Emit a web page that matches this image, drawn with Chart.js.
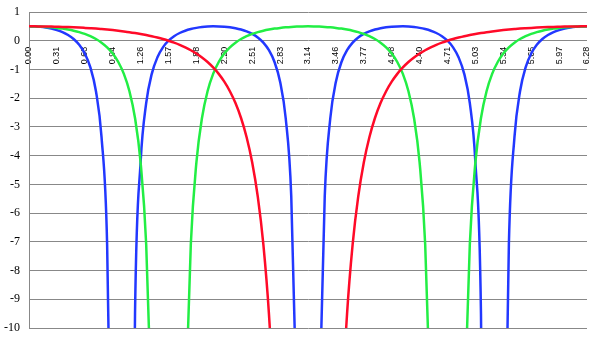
<!DOCTYPE html>
<html>
<head>
<meta charset="utf-8">
<script src="https://cdn.jsdelivr.net/npm/chart.js@4"></script>
<style>
    html, body { margin: 0; padding: 0; background: #fff; }
    #wrap { width: 600px; height: 340px; }
</style>
</head>
<body>
<div id="wrap"><canvas id="chart" width="600" height="340"></canvas></div>
<script>
// Tick labels shown on the category axis (every 5th point)
const xTickLabels = ['0.00', '0.31', '0.63', '0.94', '1.26', '1.57', '1.88', '2.20', '2.51', '2.83',
    '3.14', '3.46', '3.77', '4.08', '4.40', '4.71', '5.03', '5.34', '5.65', '5.97', '6.28'];

// Series values, 101 points from 0 to 2π (null where the curve is off the chart)
const red = [0.5, 0.5, 0.498, 0.496, 0.492, 0.487, 0.482, 0.475, 0.467, 0.458,
    0.447, 0.435, 0.422, 0.406, 0.389, 0.370, 0.349, 0.325, 0.299, 0.269,
    0.236, 0.199, 0.158, 0.111, 0.059, 0, -0.067, -0.143, -0.231, -0.331,
    -0.447, -0.583, -0.741, -0.930, -1.154, -1.426, -1.758, -2.170, -2.690, -3.358,
    -4.236, -5.424, -7.085, -9.507, -13.24, -19.43, null, null, null, null,
    null, null, null, null, null, -19.43, -13.24, -9.507, -7.085, -5.424,
    -4.236, -3.358, -2.690, -2.170, -1.758, -1.426, -1.154, -0.930, -0.741, -0.583,
    -0.447, -0.331, -0.231, -0.143, -0.067, 0, 0.059, 0.111, 0.158, 0.199,
    0.236, 0.269, 0.299, 0.325, 0.349, 0.370, 0.389, 0.406, 0.422, 0.435,
    0.447, 0.458, 0.467, 0.475, 0.482, 0.487, 0.492, 0.496, 0.498, 0.5, 0.5];

const green = [0.5, 0.498, 0.492, 0.482, 0.467, 0.447, 0.422, 0.389, 0.349, 0.299,
    0.236, 0.158, 0.059, -0.067, -0.231, -0.447, -0.741, -1.154, -1.758, -2.690,
    -4.236, -7.085, -13.24, null, null, null, null, null, -13.24, -7.085,
    -4.236, -2.690, -1.758, -1.154, -0.741, -0.447, -0.231, -0.067, 0.059, 0.158,
    0.236, 0.299, 0.349, 0.389, 0.422, 0.447, 0.467, 0.482, 0.492, 0.498,
    0.5, 0.498, 0.492, 0.482, 0.467, 0.447, 0.422, 0.389, 0.349, 0.299,
    0.236, 0.158, 0.059, -0.067, -0.231, -0.447, -0.741, -1.154, -1.758, -2.690,
    -4.236, -7.085, -13.24, null, null, null, null, null, -13.24, -7.085,
    -4.236, -2.690, -1.758, -1.154, -0.741, -0.447, -0.231, -0.067, 0.059, 0.158,
    0.236, 0.299, 0.349, 0.389, 0.422, 0.447, 0.467, 0.482, 0.492, 0.498, 0.5];

const blue = [0.5, 0.496, 0.482, 0.458, 0.422, 0.370, 0.299, 0.199, 0.059, -0.143,
    -0.447, -0.930, -1.758, -3.358, -7.085, -19.43, null, null, -30.83, -9.507,
    -4.236, -2.170, -1.154, -0.583, -0.231, 0, 0.158, 0.269, 0.349, 0.406,
    0.447, 0.475, 0.492, 0.5, 0.498, 0.487, 0.467, 0.435, 0.389, 0.325,
    0.236, 0.111, -0.067, -0.331, -0.741, -1.426, -2.690, -5.424, -13.24, null,
    null, null, -13.24, -5.424, -2.690, -1.426, -0.741, -0.331, -0.067, 0.111,
    0.236, 0.325, 0.389, 0.435, 0.467, 0.487, 0.498, 0.5, 0.492, 0.475,
    0.447, 0.406, 0.349, 0.269, 0.158, 0, -0.231, -0.583, -1.154, -2.170,
    -4.236, -9.507, -30.83, null, null, -19.43, -7.085, -3.358, -1.758, -0.930,
    -0.447, -0.143, 0.059, 0.199, 0.299, 0.370, 0.422, 0.458, 0.482, 0.496, 0.5];

const gridGray = '#888888';

function lineSet(data, color) {
    return {
        data: data,
        borderColor: color,
        backgroundColor: color,
        borderWidth: 2.5,
        pointRadius: 0,
        fill: false,
        spanGaps: false,
        cubicInterpolationMode: 'monotone'
    };
}

new Chart(document.getElementById('chart'), {
    type: 'line',
    data: {
        labels: red.map((_, i) => i),
        datasets: [
            lineSet(red, '#ff0a28'),
            lineSet(green, '#22ee44'),
            lineSet(blue, '#2238ff')
        ]
    },
    options: {
        responsive: false,
        animation: false,
        devicePixelRatio: 1,
        layout: { padding: 0 },
        plugins: {
            legend: { display: false },
            tooltip: { enabled: false }
        },
        scales: {
            x: {
                type: 'category',
                position: { y: 0 },
                offset: false,
                afterFit: function(scale) {
                    scale.paddingLeft = 0;
                    scale.paddingRight = 13;
                },
                grid: { display: false, drawTicks: false },
                border: { display: false },
                ticks: {
                    autoSkip: false,
                    minRotation: 90,
                    maxRotation: 90,
                    padding: 6,
                    color: '#000',
                    font: { family: '"Liberation Sans", Arial, sans-serif', size: 9 },
                    callback: function(value, index) {
                        return index % 5 === 0 ? xTickLabels[index / 5] : null;
                    }
                }
            },
            y: {
                min: -10,
                max: 1,
                afterFit: function(scale) {
                    scale.width = 29;
                    scale.paddingTop = 12;
                    scale.paddingBottom = 12;
                },
                ticks: {
                    stepSize: 1,
                    autoSkip: false,
                    padding: 9,
                    color: '#000',
                    font: { family: '"Liberation Serif", "Times New Roman", serif', size: 12 }
                },
                grid: { color: gridGray, lineWidth: 1, drawTicks: false },
                border: { display: true, color: gridGray, width: 1 }
            }
        }
    }
});
</script>
</body>
</html>
